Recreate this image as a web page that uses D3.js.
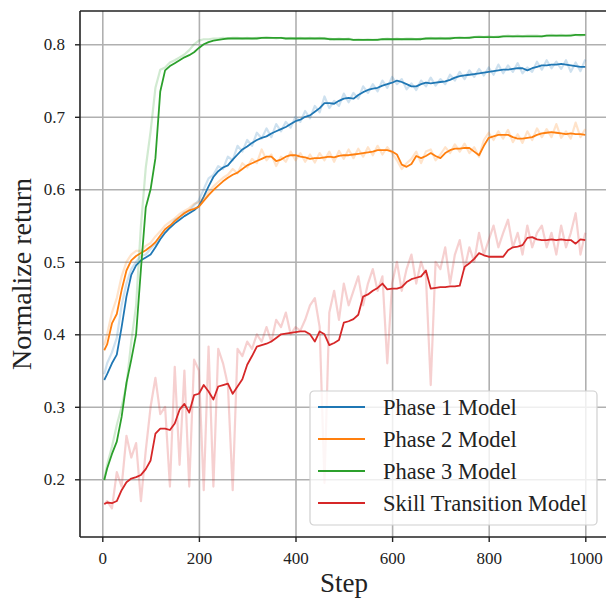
<!DOCTYPE html>
<html>
<head>
<meta charset="utf-8">
<script src="https://cdn.jsdelivr.net/npm/d3@7"></script>
<style>
  body { margin: 0; background: #fff; }
  svg text { font-family: "Liberation Serif", "Times New Roman", serif; }
</style>
</head>
<body>
<svg id="chart" width="606" height="600"></svg>
<script>
// x positions (training steps), first sample sits at step 4
const steps = d3.range(0, 1001, 10)
steps[0] = 4

const labels = ['Phase 1 Model', 'Phase 2 Model', 'Phase 3 Model', 'Skill Transition Model']
const colors = ['#1f77b4', '#ff7f0e', '#2ca02c', '#d62728']
const xTicks = [0, 200, 400, 600, 800, 1000]
const yTicks = [0.2, 0.3, 0.4, 0.5, 0.6, 0.7, 0.8]

// Phase 1 (blue)
const phase1Raw = [0.345, 0.36, 0.375, 0.395, 0.44, 0.47, 0.49, 0.50, 0.508, 0.51,
    0.518, 0.525, 0.536, 0.544, 0.548, 0.558, 0.561, 0.568, 0.57, 0.578,
    0.585, 0.60, 0.615, 0.62, 0.632, 0.628, 0.645, 0.64, 0.66, 0.652,
    0.668, 0.66, 0.678, 0.67, 0.684, 0.672, 0.69, 0.68, 0.693, 0.685,
    0.70, 0.693, 0.708, 0.698, 0.715, 0.706, 0.728, 0.712, 0.722, 0.715,
    0.732, 0.72, 0.733, 0.725, 0.742, 0.733, 0.745, 0.735, 0.75, 0.74,
    0.755, 0.745, 0.752, 0.738, 0.746, 0.737, 0.75, 0.742, 0.754, 0.743,
    0.752, 0.745, 0.758, 0.75, 0.762, 0.752, 0.764, 0.755, 0.766, 0.757,
    0.768, 0.758, 0.772, 0.76, 0.771, 0.762, 0.774, 0.76, 0.768, 0.762,
    0.776, 0.765, 0.778, 0.767, 0.776, 0.766, 0.778, 0.762, 0.775, 0.763, 0.779]
const phase1 = [0.337, 0.345, 0.36, 0.372, 0.41, 0.452, 0.482, 0.495, 0.502, 0.506,
    0.51, 0.52, 0.531, 0.54, 0.547, 0.553, 0.558, 0.563, 0.567, 0.571,
    0.577, 0.59, 0.604, 0.617, 0.625, 0.63, 0.633, 0.641, 0.648, 0.655,
    0.659, 0.664, 0.668, 0.671, 0.673, 0.677, 0.68, 0.683, 0.686, 0.69,
    0.694, 0.696, 0.70, 0.702, 0.707, 0.712, 0.719, 0.719, 0.718, 0.722,
    0.725, 0.726, 0.725, 0.73, 0.734, 0.737, 0.739, 0.74, 0.743, 0.745,
    0.747, 0.75, 0.748, 0.745, 0.742, 0.742, 0.745, 0.747, 0.746, 0.747,
    0.748, 0.749, 0.751, 0.754, 0.756, 0.757, 0.758, 0.759, 0.76, 0.761,
    0.762, 0.763, 0.764, 0.765, 0.765, 0.766, 0.767, 0.767, 0.764, 0.767,
    0.769, 0.771, 0.771, 0.772, 0.772, 0.773, 0.772, 0.771, 0.77, 0.769, 0.769]

// Phase 2 (orange)
const phase2Raw = [0.385, 0.40, 0.43, 0.45, 0.48, 0.50, 0.51, 0.515, 0.515, 0.522,
    0.526, 0.535, 0.542, 0.55, 0.555, 0.56, 0.566, 0.57, 0.574, 0.58,
    0.582, 0.588, 0.596, 0.604, 0.61, 0.616, 0.62, 0.628, 0.622, 0.636,
    0.63, 0.642, 0.636, 0.655, 0.64, 0.648, 0.632, 0.645, 0.638, 0.652,
    0.64, 0.65, 0.638, 0.648, 0.637, 0.65, 0.64, 0.652, 0.638, 0.653,
    0.642, 0.655, 0.643, 0.656, 0.645, 0.658, 0.647, 0.66, 0.648, 0.658,
    0.65, 0.64, 0.628, 0.636, 0.642, 0.652, 0.636, 0.652, 0.655, 0.64,
    0.648, 0.658, 0.65, 0.662, 0.652, 0.663, 0.65, 0.658, 0.645, 0.668,
    0.678, 0.668, 0.68, 0.67, 0.682, 0.665, 0.676, 0.664, 0.68, 0.668,
    0.684, 0.672, 0.683, 0.672, 0.69, 0.671, 0.68, 0.67, 0.692, 0.672, 0.683]
const phase2 = [0.378, 0.386, 0.415, 0.428, 0.461, 0.488, 0.502, 0.508, 0.512, 0.516,
    0.521, 0.527, 0.536, 0.545, 0.55, 0.556, 0.562, 0.567, 0.571, 0.573,
    0.576, 0.584, 0.592, 0.599, 0.605, 0.611, 0.616, 0.62, 0.623, 0.628,
    0.633, 0.636, 0.639, 0.642, 0.645, 0.645, 0.639, 0.641, 0.645, 0.647,
    0.647, 0.645, 0.644, 0.642, 0.643, 0.643, 0.644, 0.645, 0.644, 0.646,
    0.647, 0.647, 0.648, 0.649, 0.65, 0.651, 0.652, 0.654, 0.654, 0.654,
    0.652, 0.648, 0.634, 0.631, 0.635, 0.646, 0.643, 0.646, 0.65, 0.646,
    0.643, 0.65, 0.654, 0.656, 0.656, 0.657, 0.657, 0.652, 0.647, 0.66,
    0.671, 0.673, 0.675, 0.675, 0.675, 0.672, 0.67, 0.67, 0.671, 0.672,
    0.675, 0.677, 0.678, 0.679, 0.678, 0.677, 0.676, 0.677, 0.676, 0.676, 0.675]

// Phase 3 (green)
const phase3Raw = [0.20, 0.22, 0.245, 0.275, 0.30, 0.33, 0.39, 0.44, 0.55, 0.63,
    0.68, 0.74, 0.765, 0.768, 0.775, 0.778, 0.782, 0.786, 0.792, 0.80,
    0.805, 0.807, 0.807, 0.808, 0.808, 0.809, 0.808, 0.809, 0.809, 0.808,
    0.809, 0.808, 0.809, 0.809, 0.81, 0.809, 0.808, 0.809, 0.808, 0.809,
    0.808, 0.809, 0.808, 0.809, 0.808, 0.809, 0.808, 0.808, 0.807, 0.808,
    0.807, 0.808, 0.806, 0.807, 0.806, 0.807, 0.806, 0.807, 0.807, 0.808,
    0.807, 0.808, 0.807, 0.808, 0.808, 0.807, 0.808, 0.808, 0.809, 0.808,
    0.809, 0.808, 0.809, 0.809, 0.81, 0.809, 0.81, 0.81, 0.811, 0.81,
    0.811, 0.81, 0.811, 0.811, 0.812, 0.811, 0.812, 0.811, 0.812, 0.812,
    0.812, 0.811, 0.812, 0.813, 0.812, 0.813, 0.812, 0.813, 0.813, 0.812, 0.813]
const phase3 = [0.199, 0.215, 0.235, 0.252, 0.286, 0.333, 0.365, 0.40, 0.49, 0.575,
    0.60, 0.643, 0.735, 0.764, 0.77, 0.774, 0.778, 0.782, 0.785, 0.789,
    0.795, 0.80, 0.803, 0.805, 0.806, 0.807, 0.808, 0.808, 0.808, 0.808,
    0.808, 0.808, 0.808, 0.809, 0.809, 0.809, 0.809, 0.809, 0.808, 0.808,
    0.808, 0.808, 0.808, 0.808, 0.808, 0.808, 0.808, 0.807, 0.807, 0.807,
    0.807, 0.807, 0.806, 0.806, 0.806, 0.806, 0.806, 0.806, 0.807, 0.807,
    0.807, 0.807, 0.807, 0.807, 0.807, 0.807, 0.807, 0.808, 0.808, 0.808,
    0.808, 0.808, 0.808, 0.809, 0.809, 0.809, 0.809, 0.81, 0.81, 0.81,
    0.81, 0.81, 0.81, 0.811, 0.811, 0.811, 0.811, 0.811, 0.811, 0.811,
    0.811, 0.811, 0.812, 0.812, 0.812, 0.812, 0.812, 0.812, 0.813, 0.813, 0.813]

// Skill transition (red)
const skillRaw = [0.165, 0.17, 0.16, 0.21, 0.19, 0.26, 0.23, 0.25, 0.17, 0.24,
    0.30, 0.34, 0.29, 0.30, 0.19, 0.355, 0.22, 0.35, 0.19, 0.365,
    0.35, 0.185, 0.383, 0.19, 0.38, 0.36, 0.33, 0.185, 0.38, 0.37,
    0.39, 0.38, 0.40, 0.39, 0.41, 0.39, 0.42, 0.41, 0.43, 0.40,
    0.41, 0.405, 0.42, 0.44, 0.45, 0.41, 0.195, 0.43, 0.46, 0.42,
    0.47, 0.44, 0.46, 0.48, 0.44, 0.47, 0.49, 0.46, 0.48, 0.36,
    0.47, 0.50, 0.46, 0.49, 0.51, 0.47, 0.50, 0.48, 0.33, 0.50,
    0.49, 0.52, 0.47, 0.51, 0.53, 0.49, 0.52, 0.50, 0.54, 0.51,
    0.53, 0.55, 0.52, 0.54, 0.558, 0.52, 0.54, 0.51, 0.55, 0.52,
    0.54, 0.55, 0.52, 0.54, 0.51, 0.55, 0.52, 0.54, 0.567, 0.51, 0.54]
const skill = [0.166, 0.168, 0.167, 0.17, 0.185, 0.196, 0.201, 0.203, 0.206, 0.214,
    0.226, 0.263, 0.27, 0.27, 0.268, 0.277, 0.296, 0.304, 0.292, 0.316,
    0.318, 0.33, 0.321, 0.31, 0.328, 0.33, 0.332, 0.318, 0.328, 0.338,
    0.358, 0.37, 0.383, 0.385, 0.387, 0.39, 0.395, 0.40, 0.401, 0.402,
    0.403, 0.404, 0.404, 0.40, 0.39, 0.404, 0.40, 0.385, 0.388, 0.392,
    0.416, 0.418, 0.421, 0.427, 0.452, 0.455, 0.46, 0.464, 0.47, 0.462,
    0.463, 0.463, 0.465, 0.472, 0.476, 0.478, 0.48, 0.488, 0.463, 0.464,
    0.465, 0.465, 0.466, 0.466, 0.467, 0.493, 0.498, 0.504, 0.512, 0.509,
    0.507, 0.507, 0.507, 0.507, 0.516, 0.52, 0.521, 0.523, 0.533, 0.534,
    0.531, 0.53, 0.53, 0.531, 0.53, 0.531, 0.53, 0.53, 0.525, 0.531, 0.53]

const rawSeries = [phase1Raw, phase2Raw, phase3Raw, skillRaw]
const smoothSeries = [phase1, phase2, phase3, skill]

// plot frame (right spine falls just outside the picture)
const plotLeft = 80, plotRight = 609, plotTop = 11, plotBottom = 537
const serif = '"Liberation Serif", "Times New Roman", serif'

const svg = d3.select('#chart')

const x = d3.scaleLinear().domain([0, 1000]).range([102.3, 585.3])
const y = d3.scaleLinear().domain([0.2, 0.8]).range([479.3, 44.3])

svg.append('defs').append('clipPath').attr('id', 'plot-clip')
    .append('rect')
    .attr('x', plotLeft).attr('y', plotTop)
    .attr('width', plotRight - plotLeft).attr('height', plotBottom - plotTop)

// grid
const grid = svg.append('g').attr('class', 'grid')
grid.append('g')
    .attr('transform', `translate(0,${plotBottom})`)
    .call(d3.axisBottom(x).tickValues(xTicks).tickSize(-(plotBottom - plotTop)).tickFormat(''))
grid.append('g')
    .attr('transform', `translate(${plotLeft},0)`)
    .call(d3.axisLeft(y).tickValues(yTicks).tickSize(-(plotRight - plotLeft)).tickFormat(''))
grid.selectAll('.domain').remove()
grid.selectAll('line')
    .attr('stroke', '#b0b0b0')
    .attr('stroke-width', 1.6)

// curves
const line = d3.line()
    .x((d, i) => x(steps[i]))
    .y(d => y(d))

const plot = svg.append('g').attr('clip-path', 'url(#plot-clip)')
rawSeries.forEach((s, k) => {
    plot.append('path')
        .datum(s)
        .attr('fill', 'none')
        .attr('stroke', colors[k])
        .attr('stroke-opacity', 0.22)
        .attr('stroke-width', 2.2)
        .attr('stroke-linejoin', 'round')
        .attr('d', line)
    plot.append('path')
        .datum(smoothSeries[k])
        .attr('fill', 'none')
        .attr('stroke', colors[k])
        .attr('stroke-width', 1.8)
        .attr('stroke-linejoin', 'round')
        .attr('d', line)
})

// axes
const xAxis = svg.append('g')
    .attr('transform', `translate(0,${plotBottom})`)
    .call(d3.axisBottom(x).tickValues(xTicks).tickSize(5).tickPadding(10).tickFormat(d3.format('d')))
const yAxis = svg.append('g')
    .attr('transform', `translate(${plotLeft},0)`)
    .call(d3.axisLeft(y).tickValues(yTicks).tickSize(5).tickPadding(10).tickFormat(d3.format('.1f')))
xAxis.select('.domain').attr('d', `M${plotLeft},0H${plotRight}`)
yAxis.select('.domain').attr('d', `M0,${plotTop}V${plotBottom}`)
;[xAxis, yAxis].forEach(a => {
    a.attr('font-family', null)
    a.selectAll('.domain').attr('stroke', '#222').attr('stroke-width', 1.6)
    a.selectAll('.tick line').attr('stroke', '#222').attr('stroke-width', 1.4)
    a.selectAll('text')
        .style('font-family', serif)
        .style('font-size', '17px')
        .attr('fill', '#222')
})

// top spine
svg.append('line')
    .attr('x1', plotLeft).attr('x2', plotRight)
    .attr('y1', plotTop).attr('y2', plotTop)
    .attr('stroke', '#222').attr('stroke-width', 1.6)

// axis titles
svg.append('text')
    .attr('x', 344)
    .attr('y', 592)
    .attr('text-anchor', 'middle')
    .attr('font-size', 27)
    .attr('fill', '#222')
    .text('Step')
svg.append('text')
    .attr('transform', `translate(31,${(plotTop + plotBottom) / 2}) rotate(-90)`)
    .attr('text-anchor', 'middle')
    .attr('font-size', 28)
    .attr('fill', '#222')
    .text('Normalize return')

// legend
const legend = svg.append('g').attr('transform', 'translate(310,391)')
legend.append('rect')
    .attr('width', 287).attr('height', 134)
    .attr('rx', 4)
    .attr('fill', '#fff').attr('fill-opacity', 0.8)
    .attr('stroke', '#d0d0d0').attr('stroke-width', 1.2)
labels.forEach((name, i) => {
    const row = legend.append('g').attr('transform', `translate(0,${16 + i * 32})`)
    row.append('line')
        .attr('x1', 8).attr('x2', 55)
        .attr('stroke', colors[i]).attr('stroke-width', 1.8)
    row.append('text')
        .attr('x', 73).attr('dy', '0.35em')
        .attr('font-size', 22.5)
        .attr('fill', '#222')
        .text(name)
})
</script>
</body>
</html>
